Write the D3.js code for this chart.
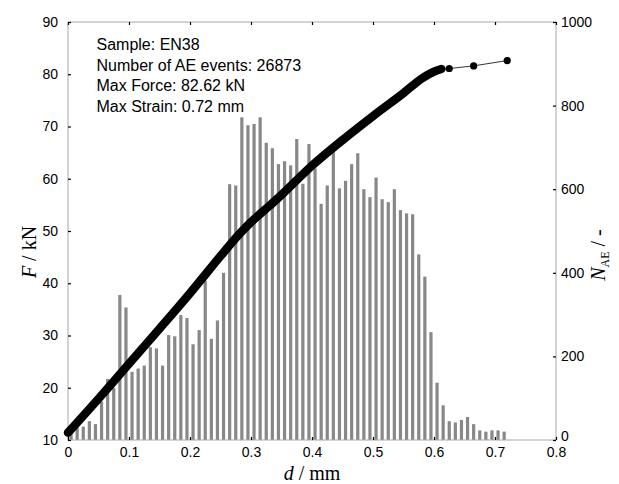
<!DOCTYPE html>
<html>
<head>
<meta charset="utf-8">
<script src="https://cdn.jsdelivr.net/npm/d3@7"></script>
<style>
  body { margin: 0; background: #fff; }
  svg { display: block; }
</style>
</head>
<body>
<div class="canvas"></div>
<script>
// AE histogram, bin centres in mm and counts per bin
const binCentres = d3.range(72).map(i => +(0.005 + i * 0.01).toFixed(3));
const aeCounts = [20, 30, 32, 45, 38, 92, 146, 125, 347, 317,
                  163, 171, 178, 222, 219, 178, 251, 248, 299, 292,
                  229, 263, 381, 242, 286, 400, 612, 609, 772, 753,
                  756, 772, 711, 698, 660, 667, 657, 720, 613, 708,
                  650, 565, 609, 690, 602, 620, 660, 686, 600, 581,
                  628, 576, 569, 600, 550, 542, 540, 444, 391, 258,
                  137, 83, 45, 42, 48, 55, 38, 23, 20, 23,
                  23, 20];

// force-displacement curve (dense part) and the last few recorded points
const curveD = [0, 0.05, 0.1, 0.15, 0.2, 0.25, 0.28, 0.3, 0.33, 0.35,
                0.4, 0.45, 0.5, 0.55, 0.58, 0.6, 0.612];
const curveF = [11.4, 17.9, 24.6, 31.3, 38.1, 45.2, 49.3, 51.7, 54.8, 56.9,
                62.5, 67.4, 72.0, 76.4, 79.2, 80.5, 81.0];
const tailD = [0.612, 0.625, 0.665, 0.72];
const tailF = [81.0, 81.1, 81.6, 82.62];

const xTicks = [0, 0.1, 0.2, 0.3, 0.4, 0.5, 0.6, 0.7, 0.8];
const fTicks = [10, 20, 30, 40, 50, 60, 70, 80, 90];
const nTicks = [0, 200, 400, 600, 800, 1000];

const infoLines = ["Sample: EN38", "Number of AE events: 26873", "Max Force: 82.62 kN", "Max Strain: 0.72 mm"];

const W = 619, H = 484;
const plot = { left: 68, right: 556, top: 22, bottom: 440 };

const svg = d3.select(".canvas").append("svg").attr("width", W).attr("height", H);

const x = d3.scaleLinear().domain([0, 0.8]).range([plot.left, plot.right]);
const yF = d3.scaleLinear().domain([10, 90]).range([plot.bottom, plot.top]);
const yN = d3.scaleLinear().domain([0, 1000]).range([plot.bottom, plot.top]);

const sans = "'Liberation Sans', Arial, sans-serif";
const serif = "'Liberation Serif', 'Times New Roman', serif";

// bars
svg.append("g")
    .selectAll("rect")
    .data(binCentres)
    .join("rect")
    .attr("x", (d) => x(d) - 1.6)
    .attr("y", (d, i) => yN(aeCounts[i]))
    .attr("width", 3.2)
    .attr("height", (d, i) => yN(0) - yN(aeCounts[i]))
    .attr("fill", "#888888");

// frame
svg.append("rect")
    .attr("x", plot.left)
    .attr("y", plot.top)
    .attr("width", plot.right - plot.left)
    .attr("height", plot.bottom - plot.top)
    .attr("fill", "none")
    .attr("stroke", "#a8a8a8")
    .attr("stroke-width", 1);

// axes (ticks point inward)
function styleAxis(g) {
    g.select(".domain").remove();
    g.selectAll(".tick line").attr("stroke", "#000").attr("stroke-width", 1.2);
    g.selectAll("text").attr("font-family", sans).attr("font-size", "14px").attr("fill", "#000");
}

svg.append("g")
    .attr("transform", `translate(0,${plot.bottom})`)
    .call(d3.axisBottom(x).tickValues(xTicks).tickSize(-3).tickPadding(7).tickFormat(d3.format("~g")))
    .call(styleAxis);

svg.append("g")
    .attr("transform", `translate(0,${plot.top})`)
    .call(d3.axisTop(x).tickValues(xTicks).tickSize(-3).tickFormat(""))
    .call(styleAxis);

svg.append("g")
    .attr("transform", `translate(${plot.left},0)`)
    .call(d3.axisLeft(yF).tickValues(fTicks).tickSize(-3).tickPadding(10))
    .call(styleAxis);

svg.append("g")
    .attr("transform", `translate(${plot.right},0)`)
    .call(d3.axisRight(yN).tickValues(nTicks).tickSize(-3).tickPadding(5).tickFormat(d3.format("d")))
    .call(styleAxis)
    .call(g => g.selectAll(".tick").filter(d => d === 0).select("text").attr("y", -4));

// force curve
const pts = curveD.map((d, i) => [d, curveF[i]]);
const tail = tailD.map((d, i) => [d, tailF[i]]);
const line = d3.line().x(p => x(p[0])).y(p => yF(p[1]));

svg.append("path")
    .attr("d", d3.line().x(p => x(p[0])).y(p => yF(p[1])).curve(d3.curveCatmullRom)(pts))
    .attr("fill", "none")
    .attr("stroke", "#000")
    .attr("stroke-width", 8.5)
    .attr("stroke-linecap", "round")
    .attr("stroke-linejoin", "round");

svg.append("path")
    .attr("d", line(tail))
    .attr("fill", "none")
    .attr("stroke", "#000")
    .attr("stroke-width", 0.8);

svg.append("g")
    .selectAll("circle")
    .data(tail.slice(1))
    .join("circle")
    .attr("cx", p => x(p[0]))
    .attr("cy", p => yF(p[1]))
    .attr("r", 3.6)
    .attr("fill", "#000");

// info text
svg.append("g")
    .selectAll("text")
    .data(infoLines)
    .join("text")
    .attr("x", 96.5)
    .attr("y", (d, i) => 50 + i * 20.7)
    .attr("font-family", sans)
    .attr("font-size", "16px")
    .attr("fill", "#000")
    .text(d => d);

// axis titles
const tl = svg.append("text")
    .attr("transform", "translate(36,252) rotate(-90)")
    .attr("text-anchor", "middle")
    .attr("font-family", serif)
    .attr("font-size", "20px");
tl.append("tspan").attr("font-style", "italic").text("F");
tl.append("tspan").text(" / kN");

const tr = svg.append("text")
    .attr("transform", "translate(605,255) rotate(-90)")
    .attr("text-anchor", "middle")
    .attr("font-family", serif)
    .attr("font-size", "20px");
tr.append("tspan").attr("font-style", "italic").text("N");
tr.append("tspan").attr("font-size", "12px").attr("dy", 4).text("AE");
tr.append("tspan").attr("dy", -4).text(" / -");

const tb = svg.append("text")
    .attr("x", 312)
    .attr("y", 480)
    .attr("text-anchor", "middle")
    .attr("font-family", serif)
    .attr("font-size", "20px");
tb.append("tspan").attr("font-style", "italic").text("d");
tb.append("tspan").text(" / mm");
</script>
</body>
</html>
